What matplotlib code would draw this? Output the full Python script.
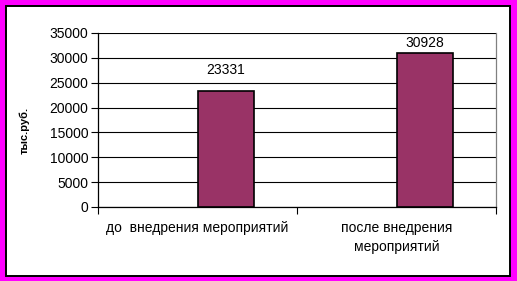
import matplotlib.pyplot as plt
from matplotlib.patches import Rectangle

plt.rcParams['font.family'] = ['Liberation Sans', 'DejaVu Sans']

categories = ['до  внедрения мероприятий', 'после внедрения\nмероприятий']
values = [23331, 30928]
y_ticks = [0, 5000, 10000, 15000, 20000, 25000, 30000, 35000]
y_label = 'тыс.руб.'

fig = plt.figure(figsize=(5.17, 2.81), dpi=100)
fig.patch.set_facecolor('#FF00FF')
# white chart area with black frame inside the magenta border
fig.patches.append(Rectangle((6 / 517, 5 / 281), 504 / 517, 270 / 281,
                             transform=fig.transFigure, facecolor='white',
                             edgecolor='black', linewidth=1.4, zorder=-5))

ax = fig.add_axes([98 / 517, 74 / 281, 398 / 517, 174 / 281])
ax.set_facecolor('white')

# Excel-style clustered bar: empty first series, so bars sit right of center
w = 1 / 3.5
x = [i + w / 2 for i in range(len(values))]
ax.bar(x, values, width=w, color='#993366', edgecolor='black', linewidth=1.2, zorder=3)

label_offsets = [10, 2]
for xi, v, off in zip(x, values, label_offsets):
    ax.annotate(str(v), (xi, v), xytext=(0, off), textcoords='offset points',
                ha='center', va='bottom', fontsize=10)

ax.set_xlim(-0.5, len(values) - 0.5)
ax.set_ylim(0, 35000)
ax.set_yticks(y_ticks)
ax.set_yticklabels([str(t) for t in y_ticks], fontsize=10)
ax.yaxis.grid(True, color='black', linewidth=0.8, zorder=0)
ax.set_axisbelow(True)

ax.set_xticks([i - 0.5 for i in range(len(values) + 1)])
ax.set_xticklabels([])
ax.set_xticks(range(len(values)), minor=True)
ax.set_xticklabels(categories, minor=True, fontsize=10, linespacing=1.45)
ax.tick_params(axis='x', which='minor', length=0, pad=10)
ax.tick_params(axis='x', which='major', length=5, width=0.8, direction='out')
ax.tick_params(axis='y', length=5, width=0.8, direction='out', pad=2)

ax.spines['left'].set_color('black')
ax.spines['bottom'].set_color('black')
ax.spines['right'].set_color('#808080')
ax.spines['top'].set_visible(False)
for s in ax.spines.values():
    s.set_linewidth(0.9)

fig.text(24 / 517, 1 - 130 / 281, y_label, rotation=90, ha='center', va='center',
         fontsize=8, fontweight='bold')

fig.savefig('out.png', dpi=100, facecolor=fig.get_facecolor())
